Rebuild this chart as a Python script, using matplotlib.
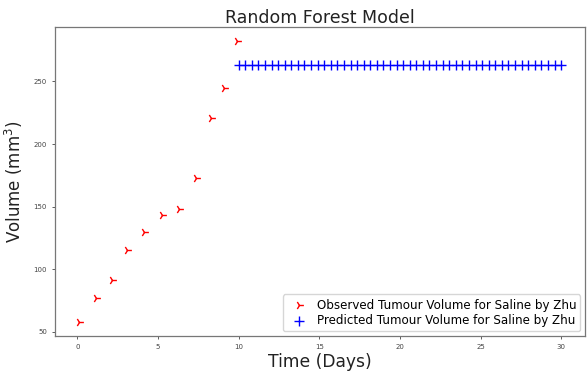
import numpy as np
import matplotlib
matplotlib.use("Agg")
import matplotlib.pyplot as plt

# Observed saline tumour volumes (Zhu)
obs_days = [0.12, 1.17, 2.16, 3.08, 4.14, 5.24, 6.28, 7.33, 8.30, 9.10, 9.87]
obs_volume = [58.0, 77.0, 91.5, 115.4, 129.7, 143.3, 148.0, 172.8, 220.6, 244.6, 282.3]

# Random forest prediction beyond the observed range
pred_days = np.linspace(10, 30, 50)
pred_volume = [263.5] * len(pred_days)

x_ticks = [0, 5, 10, 15, 20, 25, 30]
y_ticks = [50, 100, 150, 200, 250]

fig = plt.figure(figsize=(5.87, 3.74), dpi=100)
ax = fig.add_axes([0.094, 0.102, 0.903, 0.826])

ax.scatter(obs_days, obs_volume, marker="4", color="red", s=40, linewidths=1.0,
           label="Observed Tumour Volume for Saline by Zhu")
ax.scatter(pred_days, pred_volume, marker="+", color="blue", s=55, linewidths=1.0,
           label="Predicted Tumour Volume for Saline by Zhu")

ax.set_xticks(x_ticks)
ax.set_yticks(y_ticks)
ax.tick_params(labelsize=5, length=2.5, width=0.6, colors="#444444")
for sp in ax.spines.values():
    sp.set_color("#777777")
    sp.set_linewidth(0.9)

ax.set_title("Random Forest Model", fontsize=12.5, color="#222222", pad=3)
ax.set_xlabel("Time (Days)", fontsize=12.3, color="#222222", labelpad=2)
ax.set_ylabel("Volume (mm$^3$)", fontsize=12, color="#222222", labelpad=6)

ax.legend(loc="lower right", fontsize=8.6, handletextpad=0.5, borderpad=0.35,
          labelspacing=0.2, borderaxespad=0.4, framealpha=0.8)

fig.savefig("out.png", dpi=100)
